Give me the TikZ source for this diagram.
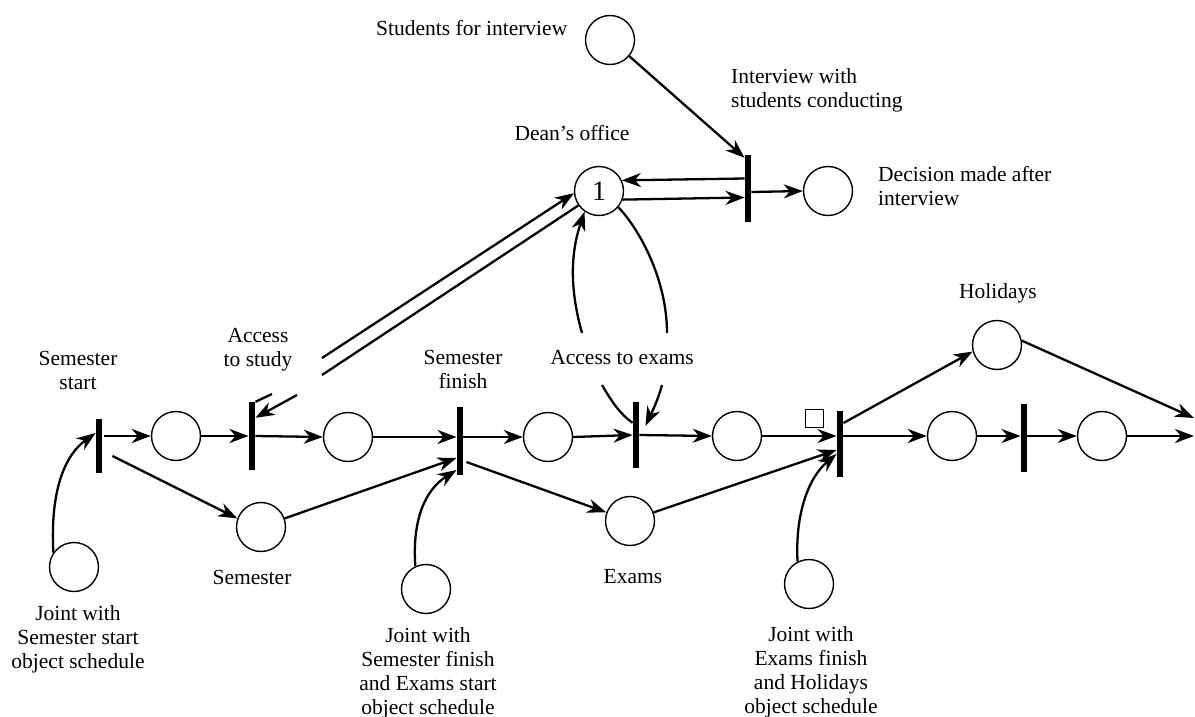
\documentclass[tikz,border=0pt]{standalone}
\usepackage{fontspec}
\setmainfont{Liberation Serif}
\usetikzlibrary{arrows.meta}
\begin{document}
\begin{tikzpicture}[x=1pt,y=-1pt,
  place/.style={circle,draw,line width=1.4pt,minimum size=49pt,inner sep=0pt},
  trans/.style={fill=black,draw=none,minimum width=6.5pt,inner sep=0pt,minimum height=#1},
  trans/.default=66pt,
  arc/.style={line width=2.3pt,-{Stealth[length=19pt,width=14pt,inset=6pt]}},
  plain/.style={line width=2.3pt},
  lbl/.style={font=\fontsize{21.5}{24}\selectfont,align=center,inner sep=0pt}]
\useasboundingbox (0,0) rectangle (1195,717);

% ---- places ----
\node[place] (stud) at (610,40) {};
\node[place,font=\fontsize{28}{30}\selectfont] (dean) at (599,191) {1};
\node[place] (dec)  at (828,191) {};
\node[place] (p1)   at (176,436) {};
\node[place] (p2)   at (348,437) {};
\node[place] (p3)   at (548,437) {};
\node[place] (p4)   at (737,436) {};
\node[place] (p5)   at (952,436) {};
\node[place] (p6)   at (1102,436) {};
\node[place] (hol)  at (997,345) {};
\node[place] (sem)  at (261,527) {};
\node[place] (exa)  at (630,521) {};
\node[place] (j1)   at (74,567) {};
\node[place] (j2)   at (426,589) {};
\node[place] (j3)   at (809,584) {};

% ---- transitions ----
\node[trans=67pt] (tint) at (748,188.5) {};
\node[trans=54pt] (t1) at (99,446) {};
\node[trans=68pt] (t2) at (252,436) {};
\node[trans=68pt] (t3) at (460,441) {};
\node[trans=66pt] (t4) at (636,435) {};
\node[trans=66pt] (t5) at (840,444) {};
\node[trans=68pt] (t6) at (1024,438) {};
\node[draw,line width=1pt,minimum size=18pt,inner sep=0pt] (mark) at (814,418) {};

% ---- labels ----
\node[lbl,anchor=west] (lstud) at (376,28) {Students for interview};
\node[lbl,anchor=north west,align=left] (lint) at (731,68) {Interview with\\students conducting};
\node[lbl] (ldean) at (572,133) {Dean’s office};
\node[lbl,anchor=north west,align=left] (ldec) at (878,166) {Decision made after\\interview};
\node[lbl] (lt1) at (78,370) {Semester\\start};
\node[lbl] (lt2) at (258,350) {Access\\to study};
\node[lbl] (lt3) at (463,369) {Semester\\finish};
\node[lbl] (lt4) at (622,358) {Access to exams};
\node[lbl] (lhol) at (998,293) {Holidays};
\node[lbl] (lsem) at (252,577) {Semester};
\node[lbl] (lexa) at (633,577) {Exams};
\node[lbl] (lj1) at (78,639) {Joint with\\Semester start\\object schedule};
\node[lbl] (lj2) at (428,673) {Joint with\\Semester finish\\and Exams start\\object schedule};
\node[lbl] (lj3) at (811,672) {Joint with\\Exams finish\\and Holidays\\object schedule};

% ---- free ends and breaks ----
\coordinate (out)  at (1194,436);
\coordinate (hend) at (1194,418);
\coordinate (a1) at (272,394);
\coordinate (a2) at (322,358);
\coordinate (b1) at (322,375);
\coordinate (b2) at (297,395);
\coordinate (c1) at (602,385);
\coordinate (c2) at (582,333);
\coordinate (c3) at (667,333);
\coordinate (c4) at (662,385);

% ---- top part ----
\draw[arc] (stud.-40) -- ([yshift=-3pt]tint.north west);
\draw[arc] ([yshift=10pt]tint.west) -- (dean.25);
\draw[arc] (dean.-20) -- ([yshift=-9pt]tint.west);
\draw[arc] ([yshift=-3.5pt]tint.east) -- (dec.west);

% ---- main line ----
\draw[arc] ([yshift=10pt,xshift=2pt]t1.east) -- (p1.west);
\draw[arc] (p1.east) -- (t2.west);
\draw[arc] (t2.east) -- (p2.west);
\draw[arc] (p2.east) -- ([yshift=4pt]t3.west);
\draw[arc] ([yshift=4pt]t3.east) -- (p3.west);
\draw[arc] (p3.east) -- (t4.west);
\draw[arc] (t4.east) -- (p4.west);
\draw[arc] (p4.east) -- ([yshift=8pt]t5.west);
\draw[arc] ([yshift=8pt]t5.east) -- (p5.west);
\draw[arc] (p5.east) -- ([yshift=2pt]t6.west);
\draw[arc] ([yshift=2pt]t6.east) -- (p6.west);
\draw[arc] (p6.east) -- (out);
\draw[arc] ([yshift=21pt]t5.east) -- (hol.195);
\draw[arc] (hol.10) -- (hend);

% ---- lower branch ----
\draw[arc] ([xshift=10pt,yshift=-10pt]t1.east) -- (sem.160);
\draw[arc] (sem.20) -- ([yshift=-17pt]t3.west);
\draw[arc] ([xshift=3pt,yshift=-21pt]t3.east) -- (exa.160);
\draw[arc] (exa.20) -- ([yshift=-6pt]t5.west);

% ---- schedule inputs ----
\draw[arc] (j1.145) .. controls (50,490) and (65,455) .. ([yshift=13pt]t1.west);
\draw[arc] (j2.115) .. controls (412,520) and (425,490) .. ([yshift=-29pt]t3.west);
\draw[arc] (j3.117) .. controls (795,515) and (808,478) .. ([yshift=-10pt]t5.west);

% ---- Dean's office links ----
\draw[plain] (t2.north east) -- (a1);
\draw[arc] (a2) -- (dean.185);
\draw[plain] (dean.215) -- (b1);
\draw[arc] (b2) -- ([yshift=-16pt]t2.north east);

\draw[plain] ([yshift=-21pt]t4.north west) .. controls (620,414) and (612,402) .. (c1);
\draw[arc] (c2) .. controls (570,290) and (570,255) .. (dean.235);
\draw[plain] (dean.-40) .. controls (640,230) and (667,280) .. (c3);
\draw[arc] (c4) .. controls (658,400) and (652,412) .. ([xshift=6pt,yshift=-24pt]t4.north east);
\end{tikzpicture}
\end{document}
